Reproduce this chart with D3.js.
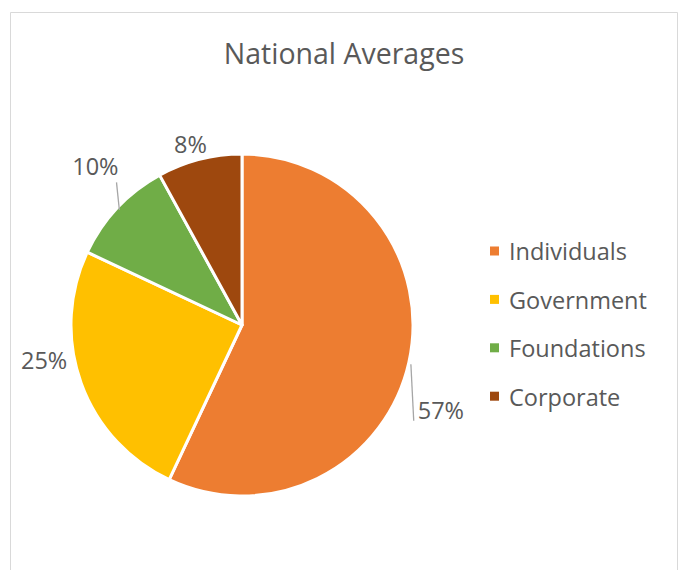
<!DOCTYPE html>
<html>
<head>
<meta charset="utf-8">
<script src="https://cdn.jsdelivr.net/npm/d3@7/dist/d3.min.js"></script>
<style>
  html, body { margin: 0; padding: 0; background: #fff; }
  svg { display: block; }
  text { font-family: "Open Sans", "Noto Sans", sans-serif; fill: #595959; }
</style>
</head>
<body>
<svg id="chart" width="683" height="570"></svg>
<script>
// Funding sources, share of total (%)
const categories = ["Individuals", "Government", "Foundations", "Corporate"];
const values = [57, 25, 10, 8];
const colors = ["#ED7D31", "#FFC000", "#70AD47", "#9E480E"];
const title = "National Averages";

// Layout
const W = 683, H = 570;
const cx = 242, cy = 325, R = 171;
// label offsets from the slice's mid-angle point on the rim
const labelOffset = [[32, 48], [-37, -22], [-22, -41], [-9, -15]];
const leader = [true, false, true, false];

const svg = d3.select("#chart");

// chart frame (open at the bottom)
svg.append("path")
  .attr("d", `M10.5,${H} V12.5 H677.5 V${H}`)
  .attr("fill", "none")
  .attr("stroke", "#d9d9d9")
  .attr("stroke-width", 1);

svg.append("text")
  .attr("x", 344).attr("y", 64)
  .attr("text-anchor", "middle")
  .attr("font-size", 28.5)
  .text(title);

const pie = d3.pie().sort(null).value(d => d)(values);
const arc = d3.arc().innerRadius(0).outerRadius(R);

const g = svg.append("g").attr("transform", `translate(${cx},${cy})`);

g.selectAll("path.slice")
  .data(pie)
  .join("path")
  .attr("class", "slice")
  .attr("d", arc)
  .attr("fill", (d, i) => colors[i])
  .attr("stroke", "#fff")
  .attr("stroke-width", 3)
  .attr("stroke-linejoin", "round");

const rim = d => {
  const a = (d.startAngle + d.endAngle) / 2;
  return [Math.sin(a) * R, -Math.cos(a) * R];
};

const fmt = v => v + "%";
const labels = pie.map((d, i) => {
  const [x, y] = rim(d);
  return { d, i, rx: x, ry: y, x: x + labelOffset[i][0], y: y + labelOffset[i][1] };
});

// text labels
const lt = g.selectAll("text.lbl")
  .data(labels)
  .join("text")
  .attr("class", "lbl")
  .attr("x", l => l.x).attr("y", l => l.y)
  .attr("dy", "0.36em")
  .attr("text-anchor", "middle")
  .attr("font-size", 23.5)
  .text(l => fmt(values[l.i]));

// leader lines to the label's nearest edge
lt.each(function (l) {
  if (!leader[l.i]) return;
  const b = this.getBBox();
  let ex, ey;
  if (l.x > l.rx) { ex = b.x - 4; ey = b.y + b.height - 5; }
  else { ex = b.x + b.width - 2; ey = b.y + b.height; }
  g.insert("line", "text")
    .attr("x1", l.rx + 2).attr("y1", l.ry + 2)
    .attr("x2", ex).attr("y2", ey)
    .attr("stroke", "#a6a6a6").attr("stroke-width", 1.3);
});

// legend
const lg = svg.append("g").attr("transform", "translate(490,251)");
const row = lg.selectAll("g")
  .data(categories)
  .join("g")
  .attr("transform", (d, i) => `translate(0,${i * 48.4})`);
row.append("rect")
  .attr("x", 0).attr("y", -4.5).attr("width", 9).attr("height", 9)
  .attr("fill", (d, i) => colors[i]);
row.append("text")
  .attr("x", 19).attr("y", 0).attr("dy", "0.4em")
  .attr("font-size", 23.5)
  .text(d => d);
</script>
</body>
</html>
